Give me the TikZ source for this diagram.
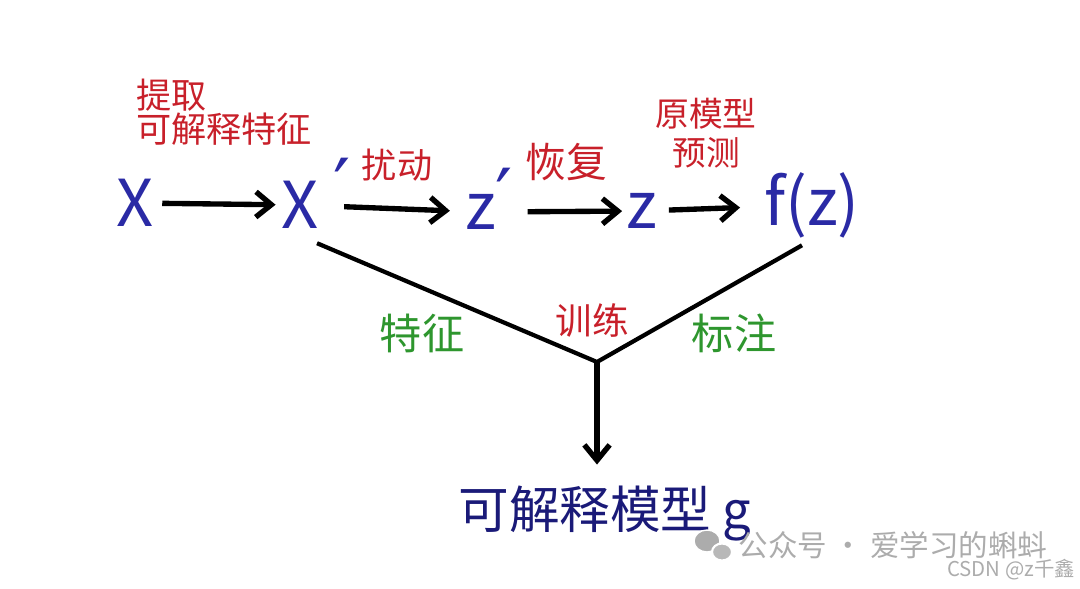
\documentclass[tikz,border=0pt]{standalone}
\usepackage{fontspec}
\setmainfont{Noto Sans CJK SC}
\newfontfamily\primefont{DejaVu Sans}
\usetikzlibrary{arrows.meta}
\definecolor{inkblue}{RGB}{42,42,165}
\definecolor{inkred}{RGB}{200,32,42}
\definecolor{inkgreen}{RGB}{46,150,46}
\definecolor{inknavy}{RGB}{26,26,120}
\definecolor{wmgray}{RGB}{172,172,172}
\begin{document}
\begin{tikzpicture}
    [x=0.025cm,y=-0.025cm,
     pre/.style={<-,>={Straight Barb[length=11pt,width=18pt]},line width=3.8pt},
     link/.style={line width=3pt},
     var/.style={text=inkblue,font=\fontsize{46}{50}\selectfont,inner sep=3pt},
     primemark/.style={text=inkblue,font=\primefont\fontsize{54}{56}\selectfont,inner sep=0pt},
     note/.style={text=inkred,font=\fontsize{25}{23}\selectfont},
     side/.style={text=inkgreen,font=\fontsize{30}{32}\selectfont},
     wm/.style={text=wmgray,font=\fontsize{21}{23}\selectfont}]
    \useasboundingbox (0,0) rectangle (1080,588);
    \node [var] (x) at (135,203) {X};
    \node [var] (xp) at (300,205) {X}
      edge [pre,shorten <=1pt,shorten >=3pt] (x);
    \node [primemark] (xpmark) at (342,186) {′};
    \node [note,align=left] (extract) at (224,112) {提取\\可解释特征};
    \node [note] (perturb) at (397,165) {扰动};
    \node [var] (zp) at (481,212) {z}
      edge [pre,shorten <=8pt,shorten >=15pt] (xp);
    \node [primemark] (zpmark) at (504,196) {′};
    \node [note,font=\fontsize{29}{30}\selectfont] (restore) at (566,162) {恢复};
    \node [var] (z) at (642,211) {z}
      edge [pre,shorten <=0pt,shorten >=19pt] (zp);
    \node [note,align=center,font=\fontsize{24}{28}\selectfont] (predict) at (706,133) {原模型\\预测};
    \node [var] (fz) at (812,205) {f(z)}
      edge [pre,shorten <=14pt,shorten >=5pt] (z);
    % training branch
    \coordinate (j) at (597,362);
    \draw [link] ([shift={(-6,10)}]xp.south east) -- (j) -- ([shift={(-10,3)}]fz.south);
    \node [side] (feat) at (422,333) {特征};
    \node [note,font=\fontsize{26}{28}\selectfont] (train) at (592,320) {训练};
    \node [side] (tag) at (734,333) {标注};
    \node [text=inknavy,font=\fontsize{36}{38}\selectfont] (g) at (605,514) {可解释模型 g};
    \draw [pre,shorten <=12pt] (g.north -| j) -- (j);
    % watermark
    \fill [wmgray,draw=white,line width=1pt] (707,541) circle [x radius=13,y radius=11];
    \fill [wmgray!85,draw=white,line width=1.5pt] (722,552) circle [x radius=10,y radius=8.5];
    \node [wm] (wechat) at (893,545) {公众号 · 爱学习的蝌蚪};
    \node [wm,font=\fontsize{14.5}{16}\selectfont] (csdn) at (1011,570) {CSDN @z千鑫};
\end{tikzpicture}
\end{document}
